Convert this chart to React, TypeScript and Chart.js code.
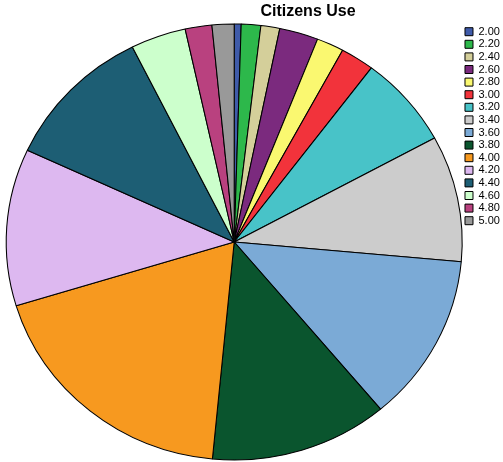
import React, { useEffect, useRef } from "react";
import { Chart, registerables } from "chart.js";

Chart.register(...registerables);

const categories = ["2.00", "2.20", "2.40", "2.60", "2.80", "3.00", "3.20", "3.40", "3.60", "3.80", "4.00", "4.20", "4.40", "4.60", "4.80", "5.00"];
const shares = [0.49, 1.38, 1.34, 2.75, 1.93, 2.39, 6.81, 9.36, 12.46, 12.62, 18.75, 11.64, 10.72, 3.92, 1.89, 1.56];
const colors = ["#3F5BA9", "#2DB84B", "#D4CF9A", "#7B2A7E", "#FAF870", "#F2333B", "#48C3C8", "#CCCCCC", "#7BAAD6", "#0A552E", "#F7991F", "#DDB8F0", "#1D5E74", "#CCFFCC", "#B9417F", "#999999"];
const titleText = "Citizens Use";

const FONT = '"Liberation Sans", Arial, Helvetica, sans-serif';
const STRETCH_X = 228 / 218;

const stretchPlugin = {
  id: "stretchPie",
  beforeDatasetsDraw(chart: any) {
    const arc = chart.getDatasetMeta(0).data[0];
    if (!arc) return;
    const ctx = chart.ctx;
    ctx.save();
    ctx.translate(arc.x, arc.y);
    ctx.scale(STRETCH_X, 1);
    ctx.translate(-arc.x, -arc.y);
  },
  afterDatasetsDraw(chart: any) {
    if (chart.getDatasetMeta(0).data[0]) chart.ctx.restore();
  },
};

const titlePlugin = {
  id: "customTitle",
  afterDraw(chart: any) {
    const ctx = chart.ctx;
    ctx.save();
    ctx.font = `bold 16px ${FONT}`;
    ctx.fillStyle = "#000";
    ctx.textAlign = "center";
    ctx.textBaseline = "middle";
    ctx.fillText(titleText, 308, 12);
    ctx.restore();
  },
};

export default function App() {
  const ref = useRef<HTMLCanvasElement | null>(null);
  useEffect(() => {
    document.body.style.margin = "0";
    if (!ref.current) return;
    const chart = new Chart(ref.current, {
      type: "pie",
      data: {
        labels: categories,
        datasets: [
          {
            data: shares,
            backgroundColor: colors,
            borderColor: "#000",
            borderWidth: 1,
            clip: false,
          } as any,
        ],
      },
      options: {
        responsive: false,
        animation: false,
        radius: 218,
        layout: { padding: { left: 5, right: -6.9, top: 24.6, bottom: 2.6 } },
        plugins: {
          title: { display: false },
          tooltip: { enabled: false },
          legend: {
            position: "right",
            align: "start",
            labels: {
              boxWidth: 8,
              boxHeight: 8,
              padding: 1.6,
              color: "#000",
              font: { family: FONT, size: 11, lineHeight: 1 },
            },
          },
        },
      } as any,
      plugins: [stretchPlugin, titlePlugin],
    });
    return () => chart.destroy();
  }, []);
  return (
    <div style={{ width: 503, height: 462 }}>
      <canvas ref={ref} width={503} height={462} />
    </div>
  );
}
